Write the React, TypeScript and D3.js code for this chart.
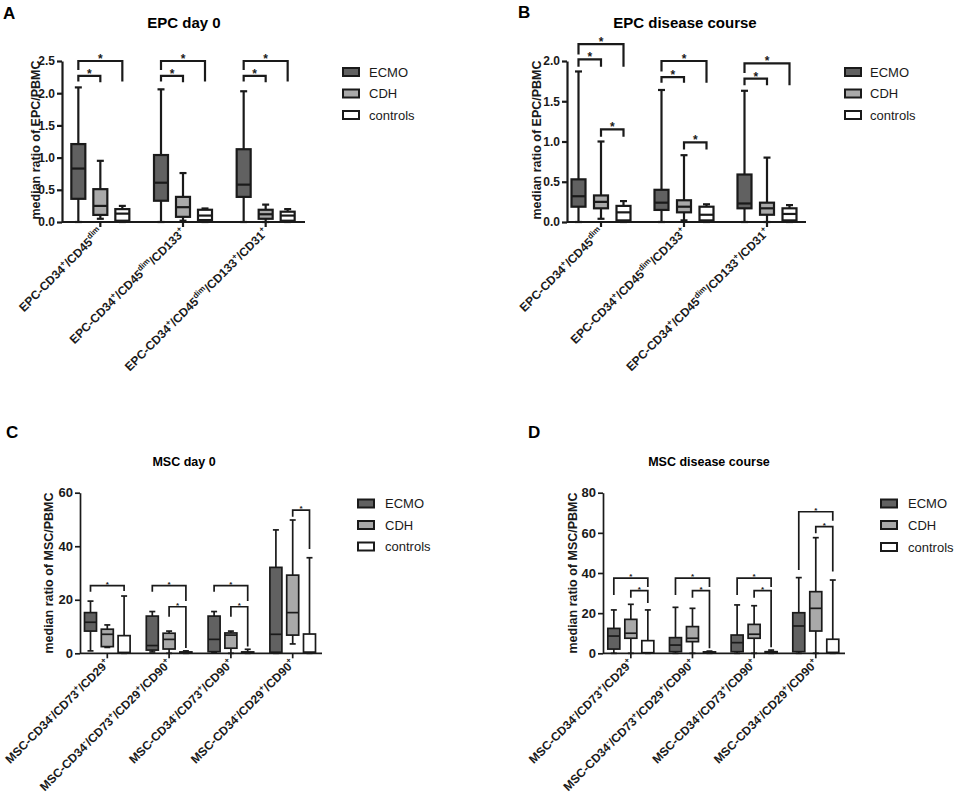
import React, { useRef, useEffect } from "react";
import * as d3 from "d3";

// groups of the three cohorts
const seriesNames = ["ECMO", "CDH", "controls"];
const seriesFills = ["#616161", "#a9a9a9", "#ffffff"];

// x-axis categories (^{..} = superscript)
const epcLabels = [
    "EPC-CD34^{+}/CD45^{dim}",
    "EPC-CD34^{+}/CD45^{dim}/CD133^{+}",
    "EPC-CD34^{+}/CD45^{dim}/CD133^{+}/CD31^{+}",
];
const mscLabels = [
    "MSC-CD34^{-}/CD73^{+}/CD29^{+}",
    "MSC-CD34^{-}/CD73^{+}/CD29^{+}/CD90^{+}",
    "MSC-CD34^{-}/CD73^{+}/CD90^{+}",
    "MSC-CD34^{-}/CD29^{+}/CD90^{+}",
];

// box summaries per category: [min, q1, median, q3, max]
const epcDay0Ecmo = [[0, 0.36, 0.83, 1.21, 2.09], [0, 0.33, 0.61, 1.04, 2.06], [0, 0.39, 0.58, 1.13, 2.03]];
const epcDay0Cdh = [[0.05, 0.11, 0.25, 0.51, 0.95], [0.02, 0.08, 0.23, 0.39, 0.76], [0, 0.05, 0.12, 0.19, 0.27]];
const epcDay0Controls = [[0, 0.02, 0.13, 0.2, 0.25], [0, 0.03, 0.1, 0.19, 0.21], [0, 0.02, 0.1, 0.16, 0.2]];

const epcCourseEcmo = [[0, 0.19, 0.32, 0.53, 1.87], [0, 0.15, 0.24, 0.4, 1.64], [0, 0.17, 0.23, 0.59, 1.63]];
const epcCourseCdh = [[0.04, 0.17, 0.25, 0.33, 1.0], [0.02, 0.12, 0.19, 0.27, 0.83], [0, 0.09, 0.17, 0.24, 0.8]];
const epcCourseControls = [[0, 0.02, 0.12, 0.2, 0.26], [0, 0.02, 0.09, 0.19, 0.22], [0, 0.02, 0.1, 0.17, 0.21]];

const mscDay0Ecmo = [[0.9, 8.3, 11.6, 15.2, 19.5], [0.5, 1.2, 2.9, 13.9, 15.6], [0.2, 0.6, 5.2, 13.9, 15.6], [0, 0.4, 7.1, 32.1, 46.1]];
const mscDay0Cdh = [[2.2, 2.5, 7.1, 9.0, 10.6], [0, 1.6, 5.2, 7.5, 8.3], [0, 1.9, 6.8, 7.6, 8.3], [3.5, 6.8, 15.2, 29.2, 49.8]];
const mscDay0Controls = [[0, 0.2, 0.3, 6.6, 21.4], [0, 0.1, 0.3, 0.5, 0.9], [0, 0.1, 0.3, 0.5, 1.5], [0, 0.3, 0.4, 7.2, 35.7]];

const mscCourseEcmo = [[0, 2.1, 8.6, 12.4, 21.6], [0, 0.8, 4.1, 7.8, 22.9], [0, 0.8, 5.3, 9.1, 24.1], [0, 0.8, 13.6, 20.2, 37.7]];
const mscCourseCdh = [[0, 7.5, 10.0, 16.9, 24.4], [0, 5.8, 7.5, 13.3, 22.4], [0, 7.5, 9.5, 14.4, 23.7], [0, 11.1, 22.4, 30.7, 57.6]];
const mscCourseControls = [[0, 0.2, 0.3, 6.3, 21.6], [0, 0.2, 0.4, 0.7, 1.1], [0, 0.2, 0.4, 0.8, 1.6], [0, 0.3, 0.4, 7.0, 36.5]];

// significance brackets: [category, fromSeries, toSeries, top, leftLegEnd, rightLegEnd]
const epcDay0Brackets = [
    [0, 0, 2, 2.5, 2.36, 2.18], [0, 0, 1, 2.27, 2.18, 2.17],
    [1, 0, 2, 2.5, 2.36, 2.18], [1, 0, 1, 2.27, 2.18, 2.17],
    [2, 0, 2, 2.5, 2.36, 2.18], [2, 0, 1, 2.27, 2.18, 2.17],
];
const epcCourseBrackets = [
    [0, 0, 2, 2.21, 2.08, 1.93], [0, 0, 1, 2.02, 1.93, 1.93], [0, 1, 2, 1.15, 1.06, 1.06],
    [1, 0, 2, 2.0, 1.87, 1.73], [1, 0, 1, 1.8, 1.73, 1.73], [1, 1, 2, 0.99, 0.9, 0.9],
    [2, 0, 2, 1.97, 1.85, 1.7], [2, 0, 1, 1.78, 1.7, 1.7],
];
const mscDay0Brackets = [
    [0, 0, 2, 25.3, 23, 23.3],
    [1, 0, 2, 25.3, 23, 19.5], [1, 1, 2, 17.4, 13.7, 2.0],
    [2, 0, 2, 25.3, 23, 19.5], [2, 1, 2, 17.4, 13.7, 2.5],
    [3, 1, 2, 53.5, 51, 39],
];
const mscCourseBrackets = [
    [0, 0, 2, 37.4, 29, 33], [0, 1, 2, 31.2, 27.7, 25],
    [1, 0, 2, 37.4, 29, 33], [1, 1, 2, 31.2, 27.7, 2.5],
    [2, 0, 2, 37.4, 29, 33], [2, 1, 2, 31.2, 27.7, 3],
    [3, 0, 2, 70.5, 41.5, 66], [3, 1, 2, 63.1, 59.8, 40.7],
];

const epcTicks = [0, 0.5, 1.0, 1.5, 2.0, 2.5];
const epcCourseTicks = [0, 0.5, 1.0, 1.5, 2.0];
const mscDay0Ticks = [0, 20, 40, 60];
const mscCourseTicks = [0, 20, 40, 60, 80];

const INK = "#1a1a1a";
const FONT = "'Liberation Sans', Arial, sans-serif";

interface PanelCfg {
    letter: string; letterX: number; letterY: number;
    title: string; titleX: number; titleY: number; titleSize: number;
    yLabel: string; yLabelX: number; yLabelY: number;
    ticks: number[]; tickFmt: (v: number) => string; tickSize: number;
    yTop: number; yBottom: number;
    axisX: [number, number]; band: [number, number];
    seriesOff: number; boxW: number; capW: number; lw: number;
    legendX: number; legendTextX: number; legendY: number[];
    labels: string[]; boxes: number[][][]; brackets: number[][];
    starSize: number;
}

const panels: PanelCfg[] = [
    {
        letter: "A", letterX: 3, letterY: 19,
        title: "EPC day 0", titleX: 184, titleY: 28, titleSize: 15,
        yLabel: "median ratio of EPC/PBMC", yLabelX: 40, yLabelY: 140,
        ticks: epcTicks, tickFmt: d3.format(".1f"), tickSize: 12,
        yTop: 61, yBottom: 222, axisX: [62, 305], band: [59, 307],
        seriesOff: 22, boxW: 14, capW: 7, lw: 2.2,
        legendX: 343, legendTextX: 369, legendY: [72, 93.5, 115],
        labels: epcLabels, boxes: [epcDay0Ecmo, epcDay0Cdh, epcDay0Controls],
        brackets: epcDay0Brackets, starSize: 12,
    },
    {
        letter: "B", letterX: 518, letterY: 18,
        title: "EPC disease course", titleX: 685, titleY: 28, titleSize: 15,
        yLabel: "median ratio of EPC/PBMC", yLabelX: 541, yLabelY: 140,
        ticks: epcCourseTicks, tickFmt: d3.format(".1f"), tickSize: 12,
        yTop: 61, yBottom: 222, axisX: [567, 806], band: [559.5, 808.5],
        seriesOff: 22.5, boxW: 14, capW: 7, lw: 2.2,
        legendX: 845, legendTextX: 870, legendY: [72, 93.5, 115],
        labels: epcLabels, boxes: [epcCourseEcmo, epcCourseCdh, epcCourseControls],
        brackets: epcCourseBrackets, starSize: 12,
    },
    {
        letter: "C", letterX: 6, letterY: 438,
        title: "MSC day 0", titleX: 184, titleY: 466, titleSize: 12.5,
        yLabel: "median ratio of MSC/PBMC", yLabelX: 53, yLabelY: 573,
        ticks: mscDay0Ticks, tickFmt: d3.format("d"), tickSize: 13,
        yTop: 492.7, yBottom: 653.3, axisX: [80, 322], band: [76.4, 323.6],
        seriesOff: 16.8, boxW: 12, capW: 6, lw: 1.7,
        legendX: 358, legendTextX: 385, legendY: [503.5, 525, 546.5],
        labels: mscLabels, boxes: [mscDay0Ecmo, mscDay0Cdh, mscDay0Controls],
        brackets: mscDay0Brackets, starSize: 8,
    },
    {
        letter: "D", letterX: 528, letterY: 438,
        title: "MSC disease course", titleX: 709, titleY: 466, titleSize: 12.5,
        yLabel: "median ratio of MSC/PBMC", yLabelX: 577, yLabelY: 573,
        ticks: mscCourseTicks, tickFmt: d3.format("d"), tickSize: 13,
        yTop: 492.7, yBottom: 653.3, axisX: [603, 845], band: [600, 846.6],
        seriesOff: 17, boxW: 12, capW: 6, lw: 1.7,
        legendX: 881, legendTextX: 908, legendY: [503.5, 525, 547],
        labels: mscLabels, boxes: [mscCourseEcmo, mscCourseCdh, mscCourseControls],
        brackets: mscCourseBrackets, starSize: 8,
    },
];

// split "CD34^{+}" into plain / superscript chunks
function parseLabel(s: string) {
    const parts: { t: string; sup: boolean }[] = [];
    const re = /\^\{([^}]*)\}/g;
    let last = 0;
    let m: RegExpExecArray | null;
    while ((m = re.exec(s))) {
        if (m.index > last) parts.push({ t: s.slice(last, m.index), sup: false });
        parts.push({ t: m[1], sup: true });
        last = re.lastIndex;
    }
    if (last < s.length) parts.push({ t: s.slice(last), sup: false });
    return parts;
}

function drawPanel(svg: d3.Selection<SVGSVGElement, unknown, null, undefined>, cfg: PanelCfg) {
    const g = svg.append("g").style("font-family", FONT);
    const n = cfg.labels.length;

    const x = d3.scaleBand<number>().domain(d3.range(n)).range(cfg.band).padding(0);
    const centre = (i: number) => (x(i) as number) + x.bandwidth() / 2;
    const off = d3.scalePoint<number>().domain([0, 1, 2]).range([-cfg.seriesOff, cfg.seriesOff]);
    const yMax = cfg.ticks[cfg.ticks.length - 1];
    const y = d3.scaleLinear().domain([0, yMax]).range([cfg.yBottom, cfg.yTop]);

    // letter + title
    g.append("text").attr("x", cfg.letterX).attr("y", cfg.letterY)
        .style("font-size", "17px").style("font-weight", "bold").text(cfg.letter);
    g.append("text").attr("x", cfg.titleX).attr("y", cfg.titleY).attr("text-anchor", "middle")
        .style("font-size", `${cfg.titleSize}px`).style("font-weight", "bold").text(cfg.title);

    // y axis
    const yAxis = g.append("g")
        .attr("transform", `translate(${cfg.axisX[0]},0)`)
        .call(d3.axisLeft(y).tickValues(cfg.ticks).tickFormat(cfg.tickFmt as any).tickSize(5).tickSizeOuter(0));
    yAxis.select(".domain").attr("stroke", INK).attr("stroke-width", cfg.lw);
    yAxis.selectAll(".tick line").attr("stroke", INK).attr("stroke-width", cfg.lw);
    yAxis.selectAll(".tick text").attr("fill", INK).attr("x", -7)
        .style("font-size", `${cfg.tickSize}px`).style("font-weight", "bold").style("font-family", FONT);

    g.append("text")
        .attr("transform", `translate(${cfg.yLabelX},${cfg.yLabelY}) rotate(-90)`)
        .attr("text-anchor", "middle")
        .style("font-size", "12.5px").style("font-weight", "bold").attr("fill", INK)
        .text(cfg.yLabel);

    // x axis line + ticks at category centres
    g.append("line")
        .attr("x1", cfg.axisX[0]).attr("x2", cfg.axisX[1])
        .attr("y1", cfg.yBottom).attr("y2", cfg.yBottom)
        .attr("stroke", INK).attr("stroke-width", cfg.lw);
    d3.range(n).forEach((i) => {
        g.append("line").attr("x1", centre(i)).attr("x2", centre(i))
            .attr("y1", cfg.yBottom).attr("y2", cfg.yBottom + 5)
            .attr("stroke", INK).attr("stroke-width", cfg.lw);

        const t = g.append("text")
            .attr("transform", `translate(${centre(i) + 3},${cfg.yBottom + 11}) rotate(-45)`)
            .attr("text-anchor", "end")
            .style("font-size", "12px").style("font-weight", "bold").attr("fill", INK);
        let raised = false;
        parseLabel(cfg.labels[i]).forEach((p) => {
            const ts = t.append("tspan").text(p.t);
            if (p.sup) {
                ts.style("font-size", "8px").attr("dy", raised ? 0 : -5);
                raised = true;
            } else if (raised) {
                ts.attr("dy", 5);
                raised = false;
            }
        });
    });

    // boxes
    cfg.boxes.forEach((series, s) => {
        series.forEach(([mn, q1, med, q3, mx], i) => {
            const cx = centre(i) + (off(s) as number);
            const bw = cfg.boxW;
            const bg = g.append("g").attr("stroke", INK).attr("stroke-width", cfg.lw);
            bg.append("line").attr("x1", cx).attr("x2", cx).attr("y1", y(mx)).attr("y2", y(q3));
            bg.append("line").attr("x1", cx).attr("x2", cx).attr("y1", y(q1)).attr("y2", y(mn));
            bg.append("line").attr("x1", cx - cfg.capW / 2).attr("x2", cx + cfg.capW / 2)
                .attr("y1", y(mx)).attr("y2", y(mx));
            bg.append("line").attr("x1", cx - cfg.capW / 2).attr("x2", cx + cfg.capW / 2)
                .attr("y1", y(mn)).attr("y2", y(mn));
            bg.append("rect")
                .attr("x", cx - bw / 2).attr("width", bw)
                .attr("y", y(q3)).attr("height", Math.max(0.5, y(q1) - y(q3)))
                .attr("fill", seriesFills[s]);
            bg.append("line").attr("x1", cx - bw / 2).attr("x2", cx + bw / 2)
                .attr("y1", y(med)).attr("y2", y(med));
        });
    });

    // significance brackets
    cfg.brackets.forEach(([cat, a, b, top, le, re]) => {
        const xl = centre(cat) + (off(a) as number);
        const xr = centre(cat) + (off(b) as number);
        g.append("path")
            .attr("d", `M${xl},${y(le)}V${y(top)}H${xr}V${y(re)}`)
            .attr("fill", "none").attr("stroke", INK).attr("stroke-width", cfg.lw);
        g.append("text")
            .attr("x", (xl + xr) / 2).attr("y", y(top) + (cfg.starSize > 10 ? 2 : 1))
            .attr("text-anchor", "middle")
            .style("font-size", `${cfg.starSize}px`).style("font-weight", "bold").attr("fill", INK)
            .text("*");
    });

    // legend
    seriesNames.forEach((name, s) => {
        const cy = cfg.legendY[s];
        g.append("rect").attr("x", cfg.legendX).attr("y", cy - 4).attr("width", 16).attr("height", 8)
            .attr("fill", seriesFills[s]).attr("stroke", INK).attr("stroke-width", 2);
        g.append("text").attr("x", cfg.legendTextX).attr("y", cy + 4.5)
            .style("font-size", "13px").attr("fill", INK).text(name);
    });
}

export default function App() {
    const svgRef = useRef<SVGSVGElement | null>(null);

    useEffect(() => {
        if (!svgRef.current) return;
        const svg = d3.select(svgRef.current);
        svg.selectAll("*").remove();
        panels.forEach((p) => drawPanel(svg, p));
    }, []);

    return (
        <svg
            ref={svgRef}
            width={957}
            height={803}
            style={{ position: "absolute", left: 0, top: 0, background: "#fff", display: "block" }}
        />
    );
}
